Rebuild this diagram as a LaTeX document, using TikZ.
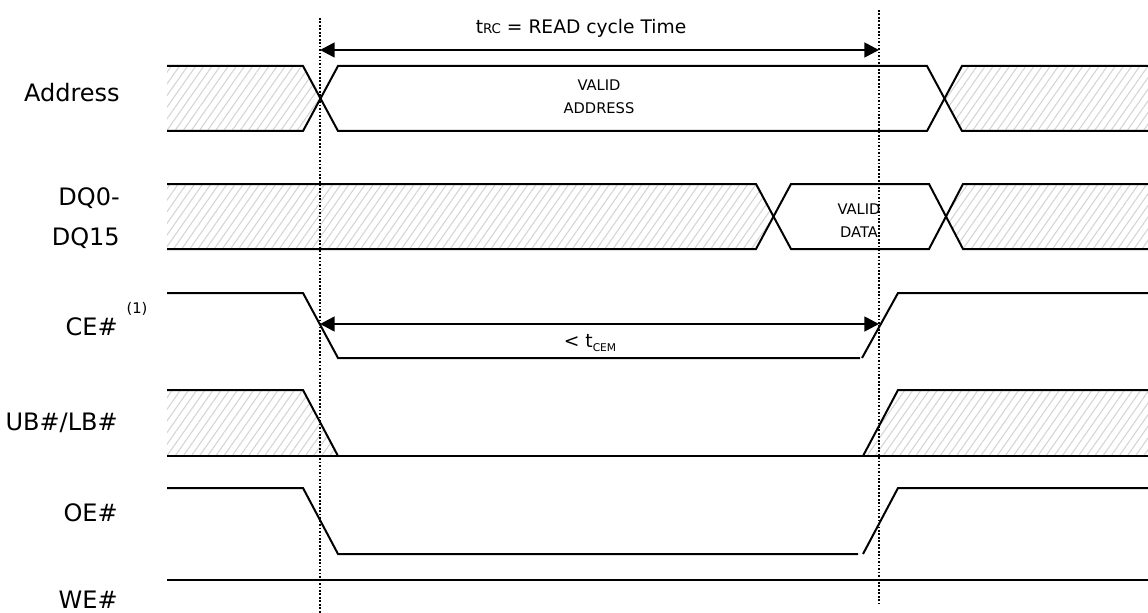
\documentclass[tikz,border=0pt]{standalone}
\usepackage{fontspec}
\setmainfont{DejaVu Sans}
\usetikzlibrary{arrows.meta,patterns.meta}

\begin{document}
\begin{tikzpicture}[x=0.75pt,y=0.75pt,line join=miter]
\tikzstyle{every node}+=[inner sep=0pt]
\tikzstyle{wave}=[black,line width=1.5pt]
\tikzstyle{hatch}=[pattern={Lines[angle=55,distance=5pt,line width=0.8pt]},pattern color=black!17]
\tikzstyle{guide}=[black,line width=1.3pt,dash pattern=on 1.3pt off 1.3pt]
\tikzstyle{timespan}=[black,line width=2pt,{Triangle[length=11pt,width=11pt]}-{Triangle[length=11pt,width=11pt]}]
\tikzstyle{sig}=[font=\fontsize{18}{30}\selectfont,anchor=east,align=right]
\tikzstyle{busval}=[font=\fontsize{11}{17}\selectfont,align=center]
\useasboundingbox (0,0) rectangle (1148,-613);
\coordinate (startT) at (320,-18);
\coordinate (startB) at (320,-613);
\coordinate (endT) at (879,-10);
\coordinate (endB) at (879,-603);
\coordinate (trcL) at (320,-50);
\coordinate (trcR) at (879,-50);
\coordinate (ceL) at (320,-324);
\coordinate (ceR) at (879,-324);
\fill [hatch] (167,-66) -- (303,-66) -- (320.5,-98.5) -- (303,-131) -- (167,-131) -- cycle;
\fill [hatch] (1148,-66) -- (962,-66) -- (944.5,-98.5) -- (962,-131) -- (1148,-131) -- cycle;
\fill [hatch] (167,-184) -- (756,-184) -- (773.5,-216.5) -- (756,-249) -- (167,-249) -- cycle;
\fill [hatch] (1148,-184) -- (963,-184) -- (945.5,-216.5) -- (963,-249) -- (1148,-249) -- cycle;
\fill [hatch] (167,-390) -- (303,-390) -- (338,-456) -- (167,-456) -- cycle;
\fill [hatch] (863,-456) -- (898,-390) -- (1148,-390) -- (1148,-456) -- cycle;
\draw [wave] (167,-66) -- (303,-66) -- (338,-131) -- (927,-131) -- (962,-66) -- (1148,-66);
\draw [wave] (167,-131) -- (303,-131) -- (338,-66) -- (927,-66) -- (962,-131) -- (1148,-131);
\draw [wave] (167,-184) -- (756,-184) -- (791,-249) -- (929,-249) -- (963,-184) -- (1148,-184);
\draw [wave] (167,-249) -- (756,-249) -- (791,-184) -- (929,-184) -- (963,-249) -- (1148,-249);
\draw [wave] (167,-293) -- (303,-293) -- (338,-358) -- (860,-358);
\draw [wave] (862,-358) -- (898,-293) -- (1148,-293);
\draw [wave] (167,-390) -- (303,-390) -- (338,-456);
\draw [wave] (167,-456) -- (1148,-456);
\draw [wave] (863,-456) -- (898,-390) -- (1148,-390);
\draw [wave] (167,-488) -- (303,-488) -- (338,-554) -- (858,-554);
\draw [wave] (863,-554) -- (898,-488) -- (1148,-488);
\draw [wave] (167,-580) -- (1148,-580);
\draw [guide] (startT) -- (startB);
\draw [guide] (endT) -- (endB);
\draw [timespan] (trcL) -- (trcR);
\draw [timespan] (ceL) -- (ceR);
\node[font=\fontsize{14}{14}\selectfont] (trc) at (581,-28) {t{\fontsize{10}{10}\selectfont RC} = READ cycle Time};
\node[font=\fontsize{14}{14}\selectfont] (tcem) at (590,-343) {< t\raisebox{-0.35ex}{\fontsize{8}{8}\selectfont CEM}};
\node[busval] (vaddr) at (599,-96.5) {VALID\\ADDRESS};
\node[busval] (vdata) at (859,-220.5) {VALID\\DATA};
\node[sig] (addr) at (120,-93) {Address};
\node[sig] (dq) at (120,-218) {DQ0-\\DQ15};
\node[sig] (ce) at (118,-327) {CE\#};
\node[font=\fontsize{11}{11}\selectfont] (note) at (137,-309) {(1)};
\node[sig] (ub) at (118,-423) {UB\#/LB\#};
\node[sig] (oe) at (118,-513) {OE\#};
\node[sig] (we) at (118,-600) {WE\#};
\end{tikzpicture}
\end{document}
